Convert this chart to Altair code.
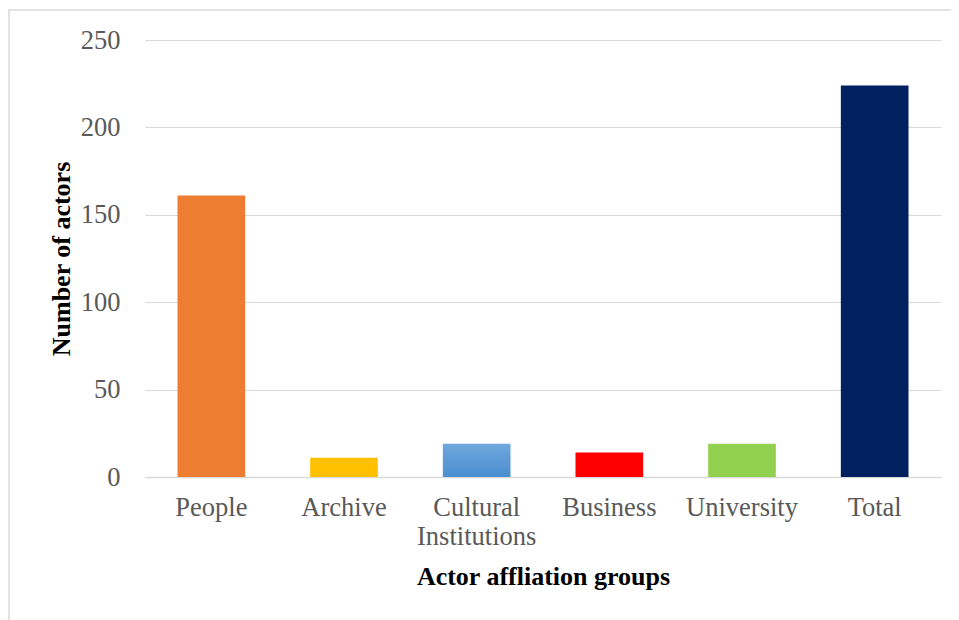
import altair as alt
import pandas as pd

categories = ["People", "Archive", "Cultural Institutions", "Business", "University", "Total"]
values = [161, 11, 19, 14, 19, 224]
colors = ["#ED7D31", "#FFC000", "#5B9BD5", "#FF0000", "#92D050", "#002060"]

df = pd.DataFrame({"group": categories, "count": values, "color": colors})

FONT = "Liberation Serif"

x_enc = alt.X(
    "group:N",
    sort=categories,
    scale=alt.Scale(paddingInner=0.49, paddingOuter=0.245),
    axis=alt.Axis(
        title="Actor affliation groups",
        labelAngle=0,
        labelExpr="split(datum.label, ' ')",
        labelFont=FONT, labelFontSize=26.5, labelColor="#595959",
        labelLineHeight=29, labelPadding=17,
        titleFont=FONT, titleFontSize=26, titleFontWeight="bold", titleColor="#000000",
        titlePadding=14,
        ticks=False, domain=True, domainColor="#d9d9d9", domainWidth=1.5,
        grid=False,
    ),
)
y_enc = alt.Y(
    "count:Q",
    scale=alt.Scale(domain=[0, 250], nice=False),
    axis=alt.Axis(
        title="Number of actors",
        values=[0, 50, 100, 150, 200, 250],
        labelFont=FONT, labelFontSize=26.5, labelColor="#595959", labelPadding=25,
        titleFont=FONT, titleFontSize=26, titleFontWeight="bold", titleColor="#000000",
        titlePadding=6,
        ticks=False, domain=False, grid=True, gridColor="#d9d9d9", gridWidth=1.2,
    ),
)

base = alt.Chart(df)

bars = base.transform_filter(alt.datum.group != "Cultural Institutions").mark_bar().encode(
    x=x_enc, y=y_enc,
    color=alt.Color("color:N", scale=None, legend=None),
)

grad_bar = base.transform_filter(alt.datum.group == "Cultural Institutions").mark_bar(
    color=alt.Gradient(
        gradient="linear", x1=0, y1=0, x2=0, y2=1,
        stops=[alt.GradientStop(offset=0, color="#6FA8DC"),
               alt.GradientStop(offset=1, color="#4A8ED0")],
    )
).encode(x=x_enc, y=y_enc)

frame = alt.Chart(pd.DataFrame({"a": [0]})).mark_rect(
    fill=None, stroke="#d9d9d9", strokeWidth=1.5
).encode(
    x=alt.value(-136), x2=alt.value(1000),
    y=alt.value(-30), y2=alt.value(700),
)

chart = alt.layer(frame, bars, grad_bar).properties(
    width=796, height=437,
    background="#ffffff",
    autosize=alt.AutoSizeParams(type="none"),
    padding={"left": 137, "top": 32, "right": 10, "bottom": 170},
).configure_view(stroke=None)

chart.save("out.html", embed_options={"renderer": "svg", "actions": False})
